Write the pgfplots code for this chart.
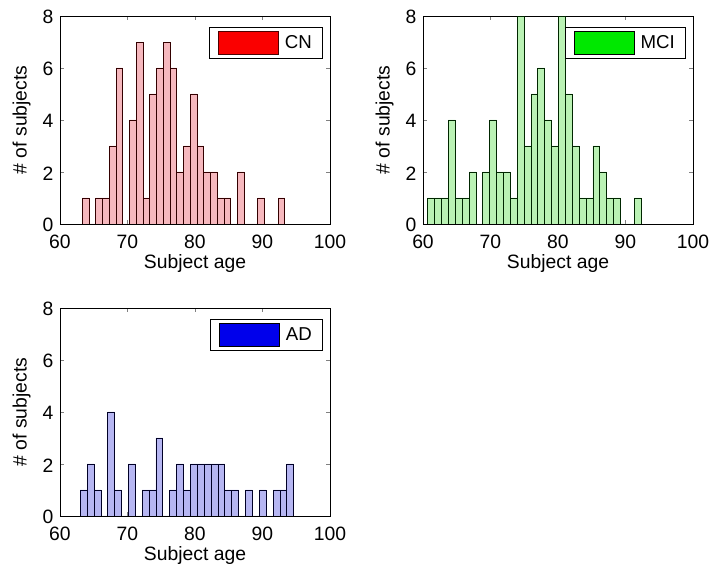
\documentclass[border=0pt]{standalone}
\usepackage{pgfplots}
\pgfplotsset{compat=1.18}
\usepackage{fontspec}
\setmainfont{Liberation Sans}

\definecolor{cnbar}{RGB}{246,184,190}
\definecolor{mcibar}{RGB}{186,242,180}
\definecolor{adbar}{RGB}{182,182,242}
\definecolor{cnkey}{RGB}{250,0,0}
\definecolor{mcikey}{RGB}{0,232,0}
\definecolor{adkey}{RGB}{0,0,235}

\pgfplotsset{
  histpanel/.style={
    width=202.5pt, height=156pt, scale only axis,
    xmin=60, xmax=100, ymin=0, ymax=8,
    xtick={60,70,80,90,100}, ytick={0,2,4,6,8},
    x tick label as interval=false,
    tick align=inside, major tick length=3pt,
    xlabel={Subject age}, ylabel={\# of subjects},
    /pgf/number format/assume math mode=true,
    tick label style={font=\fontsize{14.5}{16}\selectfont},
    yticklabel style={xshift=-1.5pt, yshift=-1pt},
    xticklabel style={yshift=-4.5pt},
    label style={font=\fontsize{14.5}{16}\selectfont},
    xlabel style={yshift=2pt}, ylabel style={yshift=2pt},
    axis line style={line width=0.7pt},
    legend style={at={(rel axis cs:1,1)}, anchor=north east,
      xshift=-5.25pt, yshift=-8.25pt,
      draw=black, line width=0.7pt, font=\fontsize{14}{16}\selectfont,
      inner xsep=6pt, inner ysep=3pt},
    clip=true,
  },
}

\begin{document}
\begin{tikzpicture}
\path[use as bounding box] (-45pt,-261.75pt) rectangle (488.25pt,168pt);

% CN
\begin{axis}[histpanel, at={(0pt,0pt)}]
\addplot[ybar interval, fill=cnbar, draw=black!80!red, line width=0.6pt,
  legend image code/.code={\draw[fill=cnkey,draw=black!70!red,line width=0.6pt] (0pt,-8.5pt) rectangle (45pt,8.5pt); \path[draw=none,fill=none] (45pt,0pt) -- (48pt,0pt);}]
coordinates {
(63.3,1) (64.3,0) (65.3,1) (66.3,1) (67.3,3) (68.3,6) (69.3,0) (70.3,4)
(71.3,7) (72.3,1) (73.3,5) (74.3,6) (75.3,7) (76.3,6) (77.3,2) (78.3,3)
(79.3,5) (80.3,3) (81.3,2) (82.3,2) (83.3,1) (84.3,1) (85.3,0) (86.3,2)
(87.3,0) (88.3,0) (89.3,1) (90.3,0) (91.3,0) (92.3,1) (93.3,1)
};
\addlegendentry{CN}
\end{axis}

% MCI
\begin{axis}[histpanel, at={(272.25pt,0pt)}]
\addplot[ybar interval, fill=mcibar, draw=black!85!green, line width=0.6pt,
  legend image code/.code={\draw[fill=mcikey,draw=black,line width=0.6pt] (0pt,-8.5pt) rectangle (45pt,8.5pt); \path[draw=none,fill=none] (45pt,0pt) -- (48pt,0pt);}]
coordinates {
(60.70,1) (61.72,1) (62.74,1) (63.76,4) (64.78,1) (65.80,1) (66.82,2) (67.84,0)
(68.86,2) (69.88,4) (70.90,2) (71.92,2) (72.94,1) (73.96,8) (74.98,3) (76.00,5)
(77.02,6) (78.04,4) (79.06,3) (80.08,8) (81.10,5) (82.12,3) (83.14,1) (84.16,1)
(85.18,3) (86.20,2) (87.22,1) (88.24,1) (89.26,0) (90.28,0) (91.30,1) (92.32,1)
};
\addlegendentry{MCI}
\end{axis}

% AD
\begin{axis}[histpanel, at={(0pt,-219pt)}]
\addplot[ybar interval, fill=adbar, draw=black!85!blue, line width=0.6pt,
  legend image code/.code={\draw[fill=adkey,draw=black,line width=0.6pt] (0pt,-8.5pt) rectangle (45pt,8.5pt); \path[draw=none,fill=none] (45pt,0pt) -- (48pt,0pt);}]
coordinates {
(63.00,1) (64.02,2) (65.04,1) (66.06,0) (67.08,4) (68.10,1) (69.12,0) (70.14,2)
(71.16,0) (72.18,1) (73.20,1) (74.22,3) (75.24,0) (76.26,1) (77.28,2) (78.30,1)
(79.32,2) (80.34,2) (81.36,2) (82.38,2) (83.40,2) (84.42,1) (85.44,1) (86.46,0)
(87.48,1) (88.50,0) (89.52,1) (90.54,0) (91.56,1) (92.58,1) (93.60,2) (94.62,2)
};
\addlegendentry{AD}
\end{axis}

\end{tikzpicture}
\end{document}
